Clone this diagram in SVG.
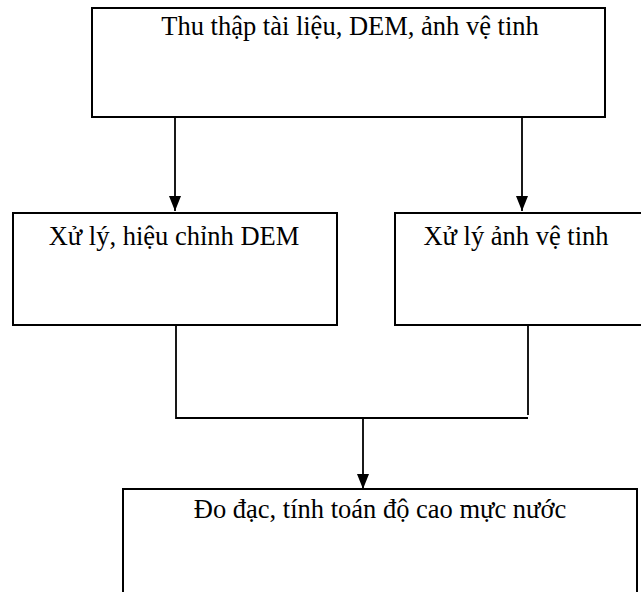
<svg xmlns="http://www.w3.org/2000/svg" width="641" height="592" viewBox="0 0 641 592">
<style>
.box{fill:#fff;stroke:#000;stroke-width:2}
.t{font-family:"Liberation Serif","Times New Roman",serif;font-size:26.5px;fill:#000;text-anchor:middle}
.ln{fill:none;stroke:#000;stroke-width:1.8}
</style>
<defs>
<marker id="ah" viewBox="0 0 15 12" refX="15" refY="6" markerWidth="15" markerHeight="12" markerUnits="userSpaceOnUse" orient="auto">
<path d="M0,0 L15,6 L0,12 Z" fill="#000"/>
</marker>
</defs>
<rect width="641" height="592" fill="#fff"/>
<g id="connectors">
<line class="ln" x1="175" y1="118" x2="175" y2="211" marker-end="url(#ah)"/>
<line class="ln" x1="522" y1="118" x2="522" y2="211" marker-end="url(#ah)"/>
<polyline class="ln" points="176,325 176,418 528,418"/>
<line class="ln" x1="528" y1="323" x2="528" y2="415"/>
<line class="ln" x1="363" y1="419" x2="363" y2="489" marker-end="url(#ah)"/>
</g>
<g id="n1">
<rect class="box" x="92" y="8" width="513" height="109"/>
<text class="t" x="350" y="35">Thu thập tài liệu, DEM, ảnh vệ tinh</text>
</g>
<g id="n2">
<rect class="box" x="13" y="213" width="324" height="112"/>
<text class="t" x="174" y="245">Xử lý, hiệu chỉnh DEM</text>
</g>
<g id="n3">
<rect class="box" x="395" y="213" width="260" height="112"/>
<text class="t" x="516" y="245">Xử lý ảnh vệ tinh</text>
</g>
<g id="n4">
<rect class="box" x="123" y="489" width="514" height="120"/>
<text class="t" x="380" y="518">Đo đạc, tính toán độ cao mực nước</text>
</g>
</svg>
